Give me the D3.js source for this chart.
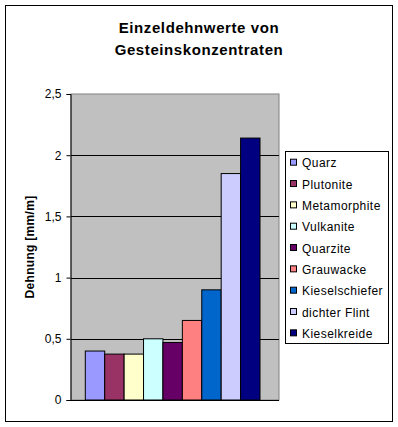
<!DOCTYPE html>
<html>
<head>
<meta charset="utf-8">
<script src="https://cdn.jsdelivr.net/npm/d3@7"></script>
<style>
  body { margin: 0; background: #fff; }
  text { font-family: "Liberation Sans", Arial, sans-serif; }
</style>
</head>
<body>
<svg id="chart" width="398" height="427"></svg>
<script>
// series names and values (one category, nine series)
var series = ["Quarz", "Plutonite", "Metamorphite", "Vulkanite", "Quarzite",
              "Grauwacke", "Kieselschiefer", "dichter Flint", "Kieselkreide"];
var values = [0.40, 0.375, 0.375, 0.50, 0.47, 0.65, 0.90, 1.85, 2.14];
var colors = ["#9999ff", "#993366", "#ffffcc", "#ccffff", "#660066",
              "#ff8080", "#0066cc", "#ccccff", "#000080"];
var yTicks = [0, 0.5, 1, 1.5, 2, 2.5];

var svg = d3.select("#chart");

var plot = { left: 71, right: 279, top: 94, bottom: 400 };

// outer frame
svg.append("rect")
    .attr("x", 5.5).attr("y", 5.5)
    .attr("width", 387).attr("height", 416)
    .attr("fill", "#fff")
    .attr("stroke", "#000")
    .attr("stroke-width", 1);

// title
var title = svg.append("text")
    .attr("text-anchor", "middle")
    .attr("font-size", "15px")
    .attr("font-weight", "bold")
    .attr("letter-spacing", "0.6px");
title.append("tspan").attr("x", 199).attr("y", 33).text("Einzeldehnwerte von");
title.append("tspan").attr("x", 199).attr("y", 55).text("Gesteinskonzentraten");

var y = d3.scaleLinear()
    .domain([0, 2.5])
    .range([plot.bottom, plot.top]);

var x = d3.scaleBand()
    .domain(series)
    .range([85.3, 260])
    .padding(0);

// plot area
svg.append("rect")
    .attr("x", plot.left).attr("y", plot.top)
    .attr("width", plot.right - plot.left)
    .attr("height", plot.bottom - plot.top)
    .attr("fill", "#c0c0c0")
    .attr("stroke", "#808080")
    .attr("stroke-width", 1);

// gridlines
svg.append("g")
    .selectAll("line")
    .data(yTicks.filter(function (d) { return d > 0 && d < 2.5; }))
    .enter()
    .append("line")
        .attr("x1", plot.left).attr("x2", plot.right)
        .attr("y1", function (d) { return Math.round(y(d)) + 0.5; })
        .attr("y2", function (d) { return Math.round(y(d)) + 0.5; })
        .attr("stroke", "#000")
        .attr("stroke-width", 1);

// bars
svg.append("g")
    .selectAll("rect")
    .data(values)
    .enter()
    .append("rect")
        .attr("x", function (d, i) { return x(series[i]); })
        .attr("y", function (d) { return y(d); })
        .attr("width", x.bandwidth())
        .attr("height", function (d) { return plot.bottom - y(d); })
        .attr("fill", function (d, i) { return colors[i]; })
        .attr("stroke", "#000")
        .attr("stroke-width", 1);

// y axis
var yAxis = d3.axisLeft(y)
    .tickValues(yTicks)
    .tickSize(4)
    .tickPadding(5)
    .tickFormat(function (d) { return String(d).replace(".", ","); });

var yg = svg.append("g")
    .attr("transform", "translate(" + (plot.left - 0.5) + ",0)")
    .call(yAxis);
yg.select(".domain").attr("stroke", "#000");
yg.selectAll(".tick line").attr("stroke", "#000");
yg.selectAll(".tick text")
    .attr("font-size", "12px")
    .attr("fill", "#000")
    .attr("font-family", "Liberation Sans, Arial, sans-serif");

// x axis baseline
svg.append("line")
    .attr("x1", plot.left - 4).attr("x2", plot.right)
    .attr("y1", plot.bottom + 0.5).attr("y2", plot.bottom + 0.5)
    .attr("stroke", "#000");

// y axis label
svg.append("text")
    .attr("transform", "translate(34,247) rotate(-90)")
    .attr("text-anchor", "middle")
    .attr("font-size", "12px")
    .attr("font-weight", "bold")
    .attr("letter-spacing", "0.3px")
    .text("Dehnung [mm/m]");

// legend
var legend = svg.append("g");
legend.append("rect")
    .attr("x", 285.5).attr("y", 151.5)
    .attr("width", 103).attr("height", 192)
    .attr("fill", "#fff")
    .attr("stroke", "#000");

var items = legend.selectAll("g.item")
    .data(series)
    .enter()
    .append("g")
        .attr("class", "item")
        .attr("transform", function (d, i) { return "translate(0," + (162.7 + i * 21.33) + ")"; });

items.append("rect")
    .attr("x", 290.5).attr("y", -3.5)
    .attr("width", 6).attr("height", 6)
    .attr("fill", function (d, i) { return colors[i]; })
    .attr("stroke", "#000");

items.append("text")
    .attr("x", 302)
    .attr("y", 4.5)
    .attr("font-size", "12px")
    .attr("letter-spacing", "0.45px")
    .text(function (d) { return d; });
</script>
</body>
</html>
